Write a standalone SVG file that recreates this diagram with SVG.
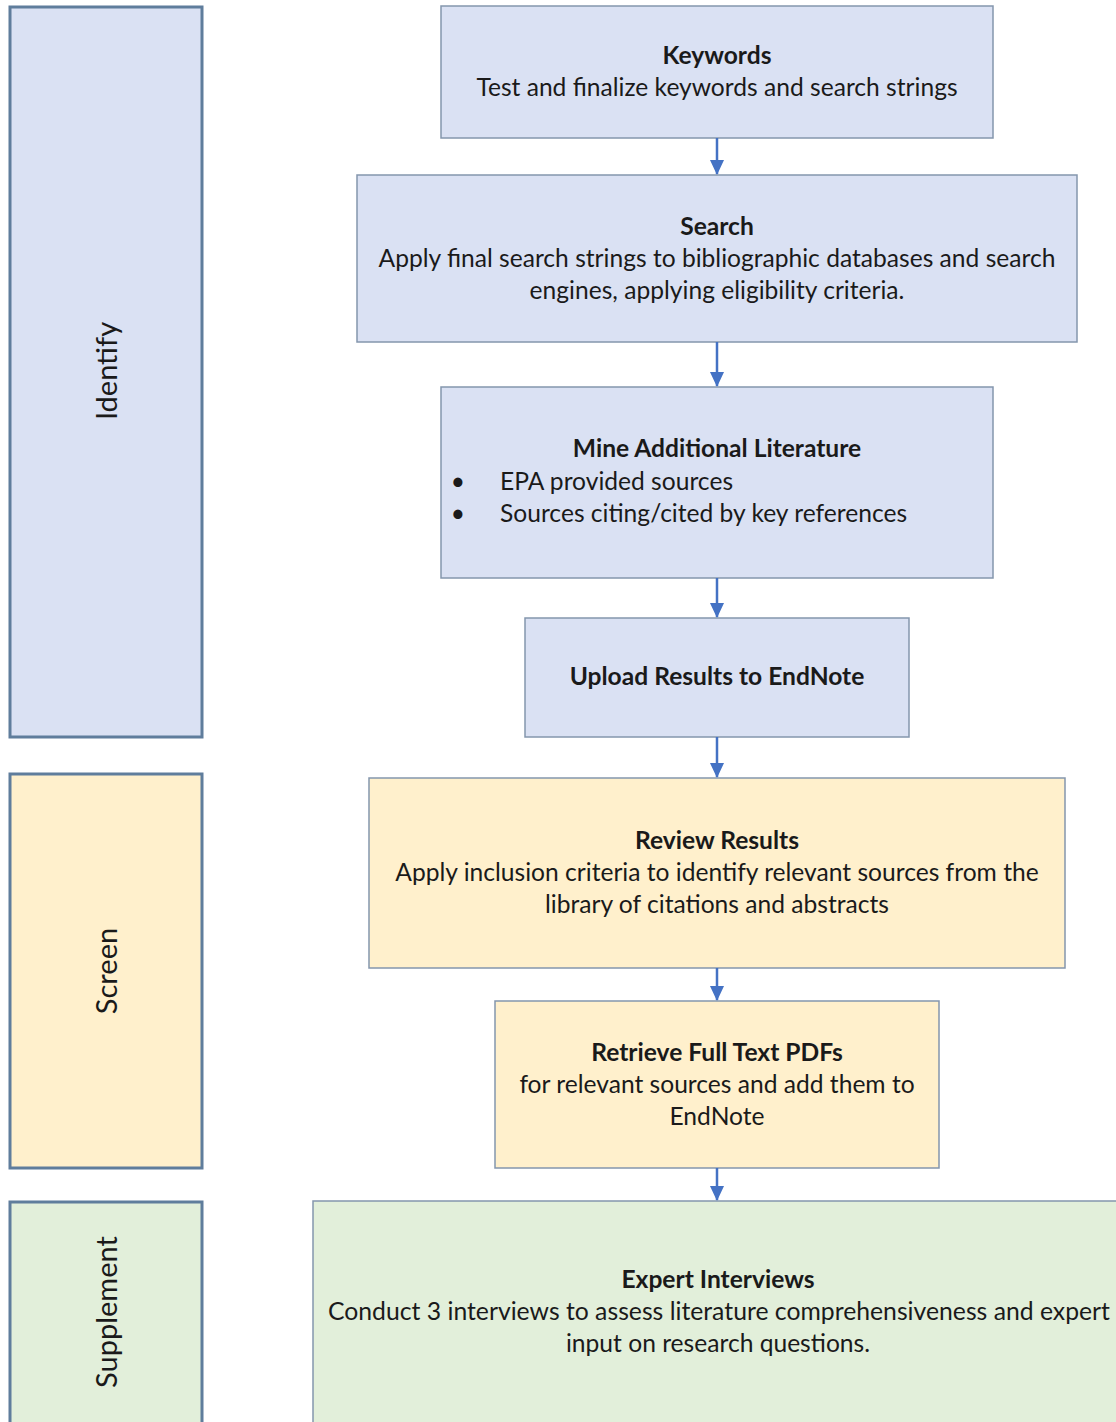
<svg xmlns="http://www.w3.org/2000/svg" width="1116" height="1422" viewBox="0 0 1116 1422">
<defs>
<marker id="ah" markerWidth="16" markerHeight="16" refX="14" refY="7" orient="auto" markerUnits="userSpaceOnUse">
<path d="M0,0 L15,7 L0,14 Z" fill="#4472c4"/>
</marker>
<style>
.lane{stroke:#5f7d9c;stroke-width:3}
.box{stroke:#8496ad;stroke-width:1.5}
.blue{fill:#dae1f3}
.yel{fill:#fff0cc}
.grn{fill:#e2efda}
text{font-family:Lato,"Open Sans","Liberation Sans",sans-serif;font-size:24.6px;fill:#1a1a1a;text-anchor:middle}
.t{font-weight:bold}
.ll{font-size:29px}
.conn line{stroke:#4472c4;stroke-width:2.5;marker-end:url(#ah)}
</style>
</defs>
<rect width="1116" height="1422" fill="#fff"/>
<g id="lane-identify"><rect class="lane blue" x="10" y="7" width="192" height="730"/><text class="ll" transform="translate(117,371) rotate(-90)">Identify</text></g>
<g id="lane-screen"><rect class="lane yel" x="10" y="774" width="192" height="394"/><text class="ll" transform="translate(117,971) rotate(-90)">Screen</text></g>
<g id="lane-supplement"><rect class="lane grn" x="10" y="1202" width="192" height="230"/><text class="ll" transform="translate(117,1312) rotate(-90)">Supplement</text></g>
<g id="keywords"><rect class="box blue" x="441" y="6" width="552" height="132"/><text class="t" x="717" y="64">Keywords</text><text x="717" y="96">Test and finalize keywords and search strings</text></g>
<g id="search"><rect class="box blue" x="357" y="175" width="720" height="167"/><text class="t" x="717" y="235">Search</text><text x="717" y="267">Apply final search strings to bibliographic databases and search</text><text x="717" y="299">engines, applying eligibility criteria.</text></g>
<g id="mine"><rect class="box blue" x="441" y="387" width="552" height="191"/><text class="t" x="717" y="457">Mine Additional Literature</text><text x="458" y="490">•</text><text x="500" y="490" style="text-anchor:start">EPA provided sources</text><text x="458" y="522">•</text><text x="500" y="522" style="text-anchor:start">Sources citing/cited by key references</text></g>
<g id="upload"><rect class="box blue" x="525" y="618" width="384" height="119"/><text class="t" x="717" y="685">Upload Results to EndNote</text></g>
<g id="review"><rect class="box yel" x="369" y="778" width="696" height="190"/><text class="t" x="717" y="849">Review Results</text><text x="717" y="881">Apply inclusion criteria to identify relevant sources from the</text><text x="717" y="913">library of citations and abstracts</text></g>
<g id="retrieve"><rect class="box yel" x="495" y="1001" width="444" height="167"/><text class="t" x="717" y="1061">Retrieve Full Text PDFs</text><text x="717" y="1093">for relevant sources and add them to</text><text x="717" y="1125">EndNote</text></g>
<g id="expert"><rect class="box grn" x="313" y="1201" width="820" height="240"/><text class="t" x="718" y="1288">Expert Interviews</text><text x="719" y="1320" textLength="782" lengthAdjust="spacingAndGlyphs">Conduct 3 interviews to assess literature comprehensiveness and expert</text><text x="718" y="1352">input on research questions.</text></g>
<g class="conn" id="connectors">
<line x1="717" y1="138" x2="717" y2="174"/>
<line x1="717" y1="342" x2="717" y2="386"/>
<line x1="717" y1="578" x2="717" y2="617"/>
<line x1="717" y1="737" x2="717" y2="777"/>
<line x1="717" y1="968" x2="717" y2="1000"/>
<line x1="717" y1="1168" x2="717" y2="1200"/>
</g>
</svg>
